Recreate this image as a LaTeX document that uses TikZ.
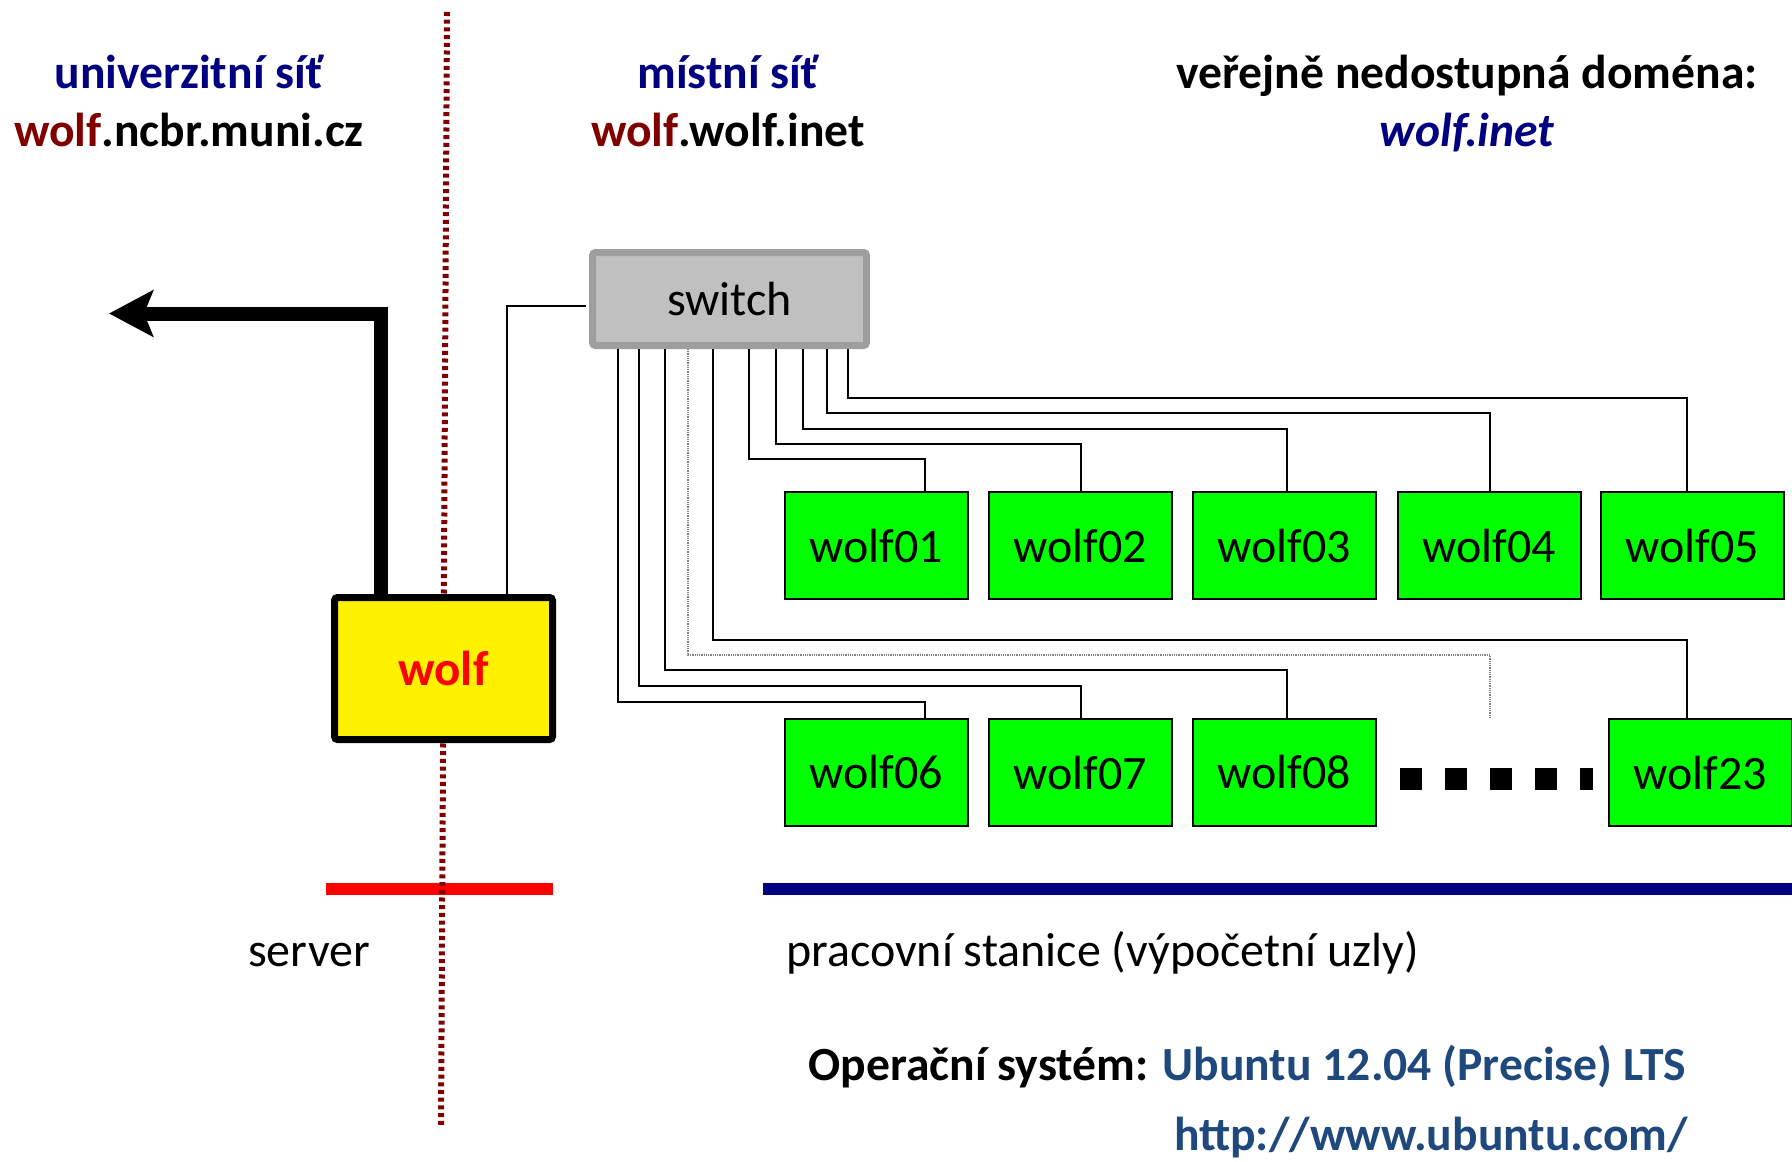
\documentclass[tikz,border=0pt]{standalone}
\usepackage{fontspec}
\setmainfont{Carlito}
\usetikzlibrary{arrows.meta}
\definecolor{navyt}{RGB}{0,0,128}
\definecolor{wred}{RGB}{128,0,0}
\definecolor{ublue}{HTML}{1F497D}
\definecolor{swfill}{RGB}{192,192,192}
\definecolor{swborder}{RGB}{158,158,158}
\definecolor{pcgreen}{RGB}{0,255,0}
\begin{document}
\begin{tikzpicture}[x=1pt,y=-1pt,
  txt/.style={inner sep=0pt, font=\fontsize{48}{57}\selectfont},
  btxt/.style={inner sep=0pt, font=\fontsize{47.6}{57}\selectfont\bfseries},
  pc/.style={draw=black, line width=2pt, fill=pcgreen, minimum width=183pt, minimum height=107pt, inner sep=0pt, font=\fontsize{48}{57}\selectfont},
  wire/.style={line width=2pt, black},
  dwire/.style={line width=1.6pt, gray, dash pattern=on 1pt off 0.8pt},
]
\useasboundingbox (0,0) rectangle (1792,1162);

% titles
\node[btxt, text=navyt, anchor=base] (t1) at (189,88) {univerzitní síť};
\node[btxt, anchor=base] (t2) at (189,146) {\textcolor{wred}{wolf}.ncbr.muni.cz};
\node[btxt, text=navyt, anchor=base] (t3) at (728,88) {místní síť};
\node[btxt, anchor=base] (t4) at (728,146) {\textcolor{wred}{wolf}.wolf.inet};
\node[btxt, anchor=base] (t5) at (1467,88) {veřejně nedostupná doména:};
\node[btxt, text=navyt, anchor=base] (t6) at (1467,146) {\itshape wolf.inet};

% bars
\fill[red] (326,883) rectangle (553,895);
\fill[navyt] (763,883) rectangle (1792,895);

% boundary line
\draw[wred, line width=6pt, dash pattern=on 4pt off 3.7pt] (447,12) -- (441,1126);

% switch
\node[draw=swborder, fill=swfill, line width=7pt, rounded corners=3pt, minimum width=274pt, minimum height=93pt, inner sep=0pt, font=\fontsize{48}{57}\selectfont] (sw) at (729.5,299) {switch};

% server
\node[draw=black, fill=yellow, line width=7pt, rounded corners=3pt, minimum width=218pt, minimum height=142pt, inner sep=0pt, text=red, font=\fontsize{49}{58}\selectfont\bfseries] (wolf) at (443.5,668.5) {wolf};

% workstations
\node[pc] (w01) at (876.5,545.5) {wolf01};
\node[pc] (w02) at (1080,545.5) {wolf02};
\node[pc] (w03) at (1284.5,545.5) {wolf03};
\node[pc] (w04) at (1489.5,545.5) {wolf04};
\node[pc] (w05) at (1692.5,545.5) {wolf05};
\node[pc] (w06) at (876.5,772.5) {wolf06};
\node[pc] (w07) at (1080,772.5) {wolf07};
\node[pc] (w08) at (1284.5,772.5) {wolf08};
\node[pc] (w23) at (1700,772.5) {wolf23};

% dots
\draw[line width=22pt, dash pattern=on 22pt off 23pt] (1400,779) -- (1593,779);

% switch ports
\coordinate (q1) at (618,349);
\coordinate (q2) at (639,349);
\coordinate (q3) at (665,349);
\coordinate (q4) at (688,349);
\coordinate (q5) at (713,349);
\coordinate (q6) at (749,349);
\coordinate (q7) at (776,349);
\coordinate (q8) at (803,349);
\coordinate (q9) at (827,349);
\coordinate (q10) at (848,349);
\coordinate (dotend) at (1490,718);

\draw[wire] (q6) -- ++(0,110) -| ([xshift=48.5pt]w01.north);
\draw[wire] (q7) -- ++(0,95) -| ([xshift=1pt]w02.north);
\draw[wire] (q8) -- ++(0,80) -| ([xshift=2.5pt]w03.north);
\draw[wire] (q9) -- ++(0,64) -| ([xshift=0.5pt]w04.north);
\draw[wire] (q10) -- ++(0,49) -| ([xshift=-5.5pt]w05.north);

\draw[wire] (q1) -- ++(0,353) -| ([xshift=48.5pt]w06.north);
\draw[wire] (q2) -- ++(0,337) -| ([xshift=1pt]w07.north);
\draw[wire] (q3) -- ++(0,321) -| ([xshift=2.5pt]w08.north);
\draw[dwire] (q4) -- ++(0,306) -| (dotend);
\draw[wire] (q5) -- ++(0,291) -| ([xshift=-13pt]w23.north);

% server to switch
\draw[wire, shorten <=3.5pt] ([yshift=-7pt]sw.west) -| ([xshift=63.5pt]wolf.north);

% uplink arrow
\coordinate (up) at (109,313.5);
\draw[line width=14pt, -{Stealth[length=44pt,width=46pt,inset=9pt]}] ([xshift=-62.5pt]wolf.north) |- (up);

% bottom texts
\node[txt, anchor=base] (srv) at (309,966) {server};
\node[txt, anchor=base west] (prac) at (786,966) {pracovní stanice (výpočetní uzly)};
\node[btxt, anchor=base east] (os) at (1686,1080) {Operační systém: \textcolor{ublue}{Ubuntu 12.04 (Precise) LTS}};
\node[btxt, text=ublue, anchor=base east] (url) at (1688,1150) {http://www.ubuntu.com/};
\end{tikzpicture}
\end{document}
